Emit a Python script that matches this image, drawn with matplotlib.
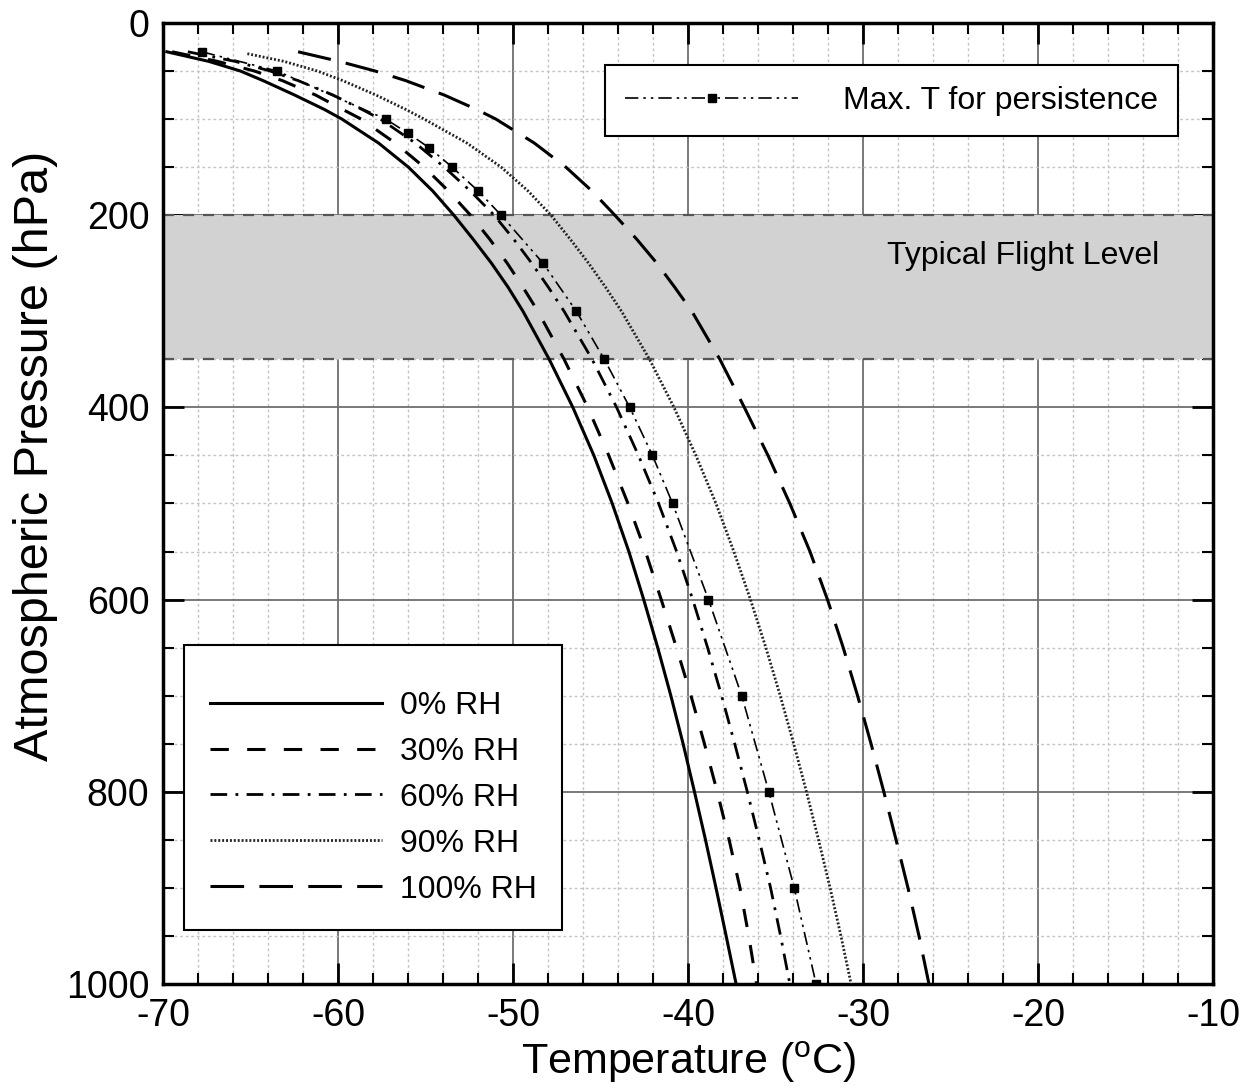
import matplotlib.pyplot as plt
from matplotlib.ticker import MultipleLocator

plt.rcParams['font.family'] = ['Liberation Sans', 'DejaVu Sans']
plt.rcParams['axes.unicode_minus'] = False

# pressure levels (hPa) and temperature (degC)
levels = [30, 40, 50, 60, 75, 90, 100, 125, 150, 175, 200, 225, 250, 275, 300,
          350, 400, 450, 500, 550, 600, 650, 700, 750, 800, 850, 900, 950, 1000]
t_rh0 = [-69.8, -67.4, -65.6, -64.3, -62.5, -60.8, -59.8, -57.7, -56.0, -54.6,
         -53.4, -52.3, -51.25, -50.3, -49.45, -47.95, -46.6, -45.4, -44.35,
         -43.4, -42.55, -41.75, -41.0, -40.3, -39.65, -39.02, -38.42, -37.84,
         -37.27]
t_rh30 = [-69.5, -66.9, -64.8, -63.2, -61.3, -59.75, -58.7, -56.75, -55.1, -53.7,
          -52.45, -51.35, -50.35, -49.45, -48.6, -47.1, -45.75, -44.55, -43.45,
          -42.45, -41.55, -40.68, -39.85, -39.08, -38.35, -37.67, -37.05, -36.55,
          -36.1]
t_rh60 = [-68.6, -65.9, -63.9, -62.3, -60.3, -58.65, -57.6, -55.6, -53.95, -52.45,
          -51.1, -49.98, -48.95, -48.0, -47.1, -45.5, -44.1, -42.85, -41.7,
          -40.67, -39.75, -38.9, -38.1, -37.35, -36.63, -35.95, -35.3, -34.73,
          -34.2]
t_rh100 = [-62.3, -59.95, -57.9, -56.15, -53.95, -52.1, -51.0, -48.8, -47.0, -45.5,
           -44.2, -42.95, -41.8, -40.78, -39.8, -38.2, -36.8, -35.45, -34.2,
           -33.05, -32.05, -31.15, -30.33, -29.56, -28.83, -28.13, -27.45, -26.82,
           -26.25]

levels_rh90 = [32, 40, 50, 60, 75, 90, 100, 125, 150, 175, 200, 225, 250, 275, 300,
               350, 400, 450, 500, 550, 600, 650, 700, 750, 800, 850, 900, 950, 1000]
t_rh90 = [-65.2, -63.1, -61.2, -59.75, -57.85, -56.15, -55.1, -52.65, -50.7, -49.15,
          -47.85, -46.75, -45.7, -44.73, -43.82, -42.22, -40.82, -39.57, -38.42,
          -37.4, -36.45, -35.57, -34.75, -33.98, -33.25, -32.56, -31.9, -31.28,
          -30.7]

# max. temperature for contrail persistence (marked points)
p_max = [30, 50, 100, 115, 130, 150, 175, 200, 250, 300, 350, 400, 450, 500,
         600, 700, 800, 900, 1000]
t_max = [-67.8, -63.5, -57.3, -56.0, -54.8, -53.5, -52.0, -50.7, -48.3, -46.4,
         -44.8, -43.35, -42.05, -40.9, -38.85, -36.95, -35.4, -33.95, -32.7]

flight_level = (200, 350)

fig = plt.figure(figsize=(12.47, 10.88), dpi=100)
ax = fig.add_axes([0.131, 0.0956, 0.842, 0.8833])

# typical flight level band
ax.axhspan(flight_level[0], flight_level[1], color='#d2d2d2', lw=0, zorder=1)
for p in flight_level:
    ax.axhline(p, color='#555555', lw=1.6, ls=(0, (5, 4)), zorder=1.2)
ax.text(-13.1, 242, 'Typical Flight Level', fontsize=23, ha='right', va='center',
        zorder=3)

l0, = ax.plot(t_rh0, levels, color='k', lw=2.2, label='0% RH', zorder=3)
l30, = ax.plot(t_rh30, levels, color='k', lw=2.2, dashes=(6, 6), label='30% RH', zorder=3)
l60, = ax.plot(t_rh60, levels, color='k', lw=2.0, dashes=(6, 3, 1, 3), label='60% RH', zorder=3)
l90, = ax.plot(t_rh90, levels_rh90, color='#222222', lw=2.0, dashes=(0.7, 0.7),
               label='90% RH', zorder=3)
l100, = ax.plot(t_rh100, levels, color='k', lw=2.2, dashes=(11, 5), label='100% RH', zorder=3)
lmax, = ax.plot(t_max, p_max, color='k', lw=1.2, dashes=(8, 3, 1.5, 3, 1.5, 3),
                marker='s', ms=6, label='Max. T for persistence', zorder=4)

ax.set_xlim(-70, -10)
ax.set_ylim(1000, 0)
ax.xaxis.set_major_locator(MultipleLocator(10))
ax.xaxis.set_minor_locator(MultipleLocator(2))
ax.yaxis.set_major_locator(MultipleLocator(200))
ax.yaxis.set_minor_locator(MultipleLocator(50))

ax.set_axisbelow(True)
ax.grid(which='major', color='#6e6e6e', lw=1.3, ls='-')
ax.grid(which='minor', color='#c4c4c4', lw=1.0, ls=(0, (2, 2)))

ax.tick_params(which='both', direction='in', top=True, right=True)
ax.tick_params(which='major', length=15, width=2, labelsize=27, pad=10)
ax.tick_params(which='minor', length=8, width=1.5)
for s in ax.spines.values():
    s.set_linewidth(2.5)

ax.set_xlabel('Temperature ($^\\mathregular{o}$C)', fontsize=31, labelpad=4)
ax.set_ylabel('Atmospheric Pressure (hPa)', fontsize=35)
ax.yaxis.set_label_coords(-0.100, 0.55)

leg1 = ax.legend(handles=[l0, l30, l60, l90, l100], loc='lower left',
                 bbox_to_anchor=(0.02, 0.056), borderaxespad=0, fontsize=23,
                 handlelength=5.4, handletextpad=0.55, labelspacing=0.5,
                 borderpad=0.8, title=' ', title_fontsize=3,
                 fancybox=False, framealpha=1, edgecolor='k')
leg1.get_frame().set_linewidth(1.5)
ax.add_artist(leg1)

leg2 = ax.legend(handles=[lmax], loc='upper right', bbox_to_anchor=(0.9668, 0.9563),
                 borderaxespad=0, fontsize=23, numpoints=1, handlelength=5.4,
                 handletextpad=1.4, borderpad=0.65, fancybox=False, framealpha=1,
                 edgecolor='k')
leg2.get_frame().set_linewidth(1.5)

fig.savefig('out.png', dpi=100)
